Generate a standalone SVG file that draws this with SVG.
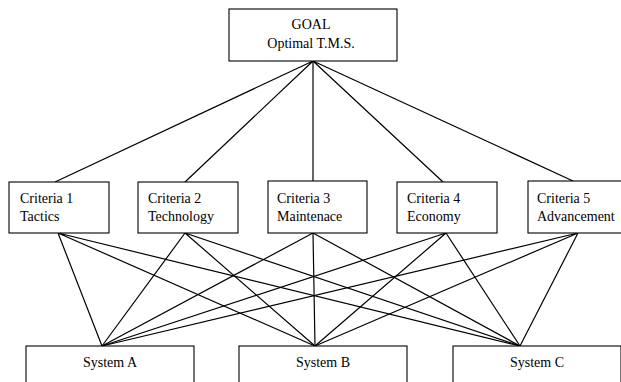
<svg xmlns="http://www.w3.org/2000/svg" width="621" height="382" viewBox="0 0 621 382">
<style>
.box{fill:#fff;stroke:#000;stroke-width:1.1}
.t{font-family:"Liberation Serif","Times New Roman",serif;font-size:14px;fill:#000}
.c{text-anchor:middle}
.ln{stroke:#000;stroke-width:1.2;fill:none}
</style>
<rect width="621" height="382" fill="#fff"/>
<g id="connectors">
<path class="ln" d="M313,61 L55,182 M313,61 L185,182 M313,61 L313,181 M313,61 L443,182 M313,61 L573,181"/>
<path class="ln" d="M58,233 L102,346 M58,233 L315,346 M58,233 L520,346"/>
<path class="ln" d="M185,233 L102,346 M185,233 L315,346 M185,233 L520,346"/>
<path class="ln" d="M313,233 L102,346 M313,233 L315,346 M313,233 L520,346"/>
<path class="ln" d="M446,233 L102,346 M446,233 L315,346 M446,233 L520,346"/>
<path class="ln" d="M578,233 L102,346 M578,233 L315,346 M578,233 L520,346"/>
</g>
<g id="goal">
<rect class="box" x="229" y="9" width="168" height="52"/>
<text class="t c" x="311" y="29">GOAL</text>
<text class="t c" x="311" y="48">Optimal T.M.S.</text>
</g>
<g id="criteria1">
<rect class="box" x="9" y="182" width="100" height="51"/>
<text class="t" x="20" y="203">Criteria 1</text>
<text class="t" x="20" y="221">Tactics</text>
</g>
<g id="criteria2">
<rect class="box" x="138" y="182" width="100" height="51"/>
<text class="t" x="148" y="203">Criteria 2</text>
<text class="t" x="148" y="221">Technology</text>
</g>
<g id="criteria3">
<rect class="box" x="268" y="181" width="99" height="52"/>
<text class="t" x="277" y="203">Criteria 3</text>
<text class="t" x="277" y="221">Maintenace</text>
</g>
<g id="criteria4">
<rect class="box" x="397" y="182" width="100" height="51"/>
<text class="t" x="407" y="203">Criteria 4</text>
<text class="t" x="407" y="221">Economy</text>
</g>
<g id="criteria5">
<rect class="box" x="528" y="181" width="100" height="52"/>
<text class="t" x="537" y="203">Criteria 5</text>
<text class="t" x="537" y="221">Advancement</text>
</g>
<g id="systemA">
<rect class="box" x="26" y="346" width="168" height="50"/>
<text class="t c" x="110" y="367">System A</text>
</g>
<g id="systemB">
<rect class="box" x="239" y="346" width="168" height="50"/>
<text class="t c" x="323" y="367">System B</text>
</g>
<g id="systemC">
<rect class="box" x="453" y="346" width="168" height="50"/>
<text class="t c" x="537" y="367">System C</text>
</g>
</svg>
